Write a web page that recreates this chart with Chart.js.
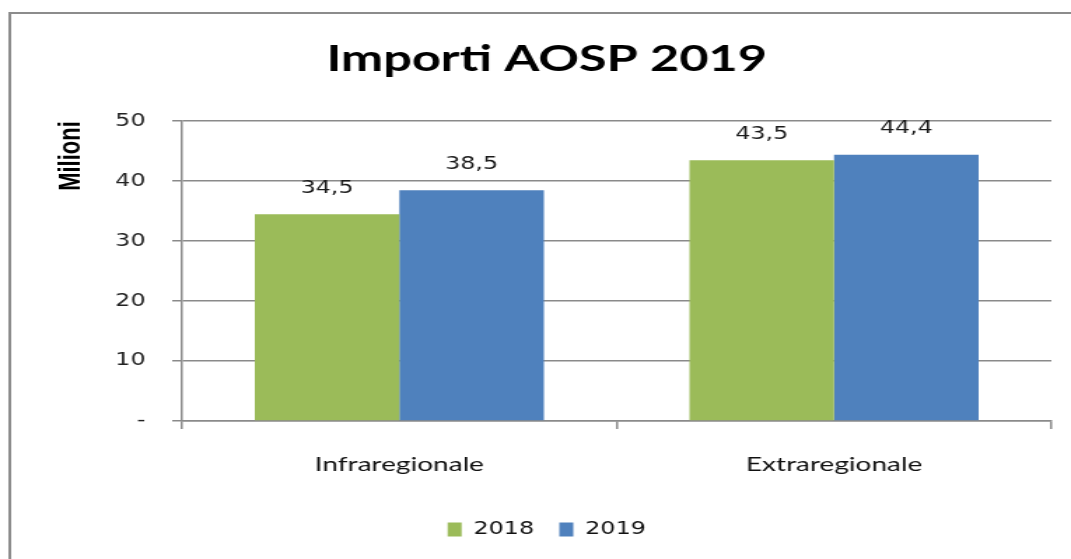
<!DOCTYPE html>
<html>
<head>
<meta charset="utf-8">
<title>Importi AOSP 2019</title>
<script src="https://cdn.jsdelivr.net/npm/chart.js@4/dist/chart.umd.min.js"></script>
<style>
  html, body { margin: 0; padding: 0; background: #fff; overflow: hidden; }
  /* the reference is stretched horizontally, so the chart is drawn narrow and widened */
  #wrap { width: 765px; height: 559px; transform: scaleX(1.4); transform-origin: 0 0; }
</style>
</head>
<body>
<div id="wrap"><canvas id="aospChart" width="765" height="559"></canvas></div>
<script>
// Chart data
const categories = ['Infraregionale', 'Extraregionale'];
const seriesLabels = ['2018', '2019'];
const values2018 = [34.5, 43.5];
const values2019 = [38.5, 44.4];
const yTicks = [0, 10, 20, 30, 40, 50];

const gridGray = '#8a8a8a';

// Outer frame of the chart
const framePlugin = {
  id: 'frame',
  beforeDraw(chart) {
    const ctx = chart.ctx;
    ctx.save();
    ctx.fillStyle = '#fff';
    ctx.fillRect(0, 0, chart.width, chart.height);
    ctx.strokeStyle = '#8c8c8c';
    ctx.lineWidth = 2;
    ctx.strokeRect(7, 13, 900, 700);
    ctx.restore();
  }
};

// Value labels above each bar, Italian decimal comma
const valueLabels = {
  id: 'valueLabels',
  afterDatasetsDraw(chart) {
    const ctx = chart.ctx;
    ctx.save();
    ctx.font = '17px "DejaVu Sans"';
    ctx.fillStyle = '#1a1a1a';
    ctx.textAlign = 'center';
    ctx.textBaseline = 'middle';
    chart.data.datasets.forEach((ds, i) => {
      chart.getDatasetMeta(i).data.forEach((bar, j) => {
        ctx.fillText(ds.data[j].toFixed(1).replace('.', ','), bar.x, bar.y - 26);
      });
    });
    ctx.restore();
  }
};

const ctx = document.getElementById('aospChart').getContext('2d');
new Chart(ctx, {
  type: 'bar',
  data: {
    labels: categories,
    datasets: [
      { label: seriesLabels[0], data: values2018, backgroundColor: '#9bbb59' },
      { label: seriesLabels[1], data: values2019, backgroundColor: '#4f81bd' }
    ]
  },
  options: {
    responsive: false,
    animation: false,
    devicePixelRatio: 1,
    categoryPercentage: 0.665,
    barPercentage: 1,
    layout: { padding: { left: 30, right: 14, top: 0, bottom: 11 } },
    plugins: {
      title: {
        display: true,
        text: 'Importi AOSP 2019',
        color: '#000',
        font: { family: 'Lato', size: 36, weight: 'bold' },
        padding: { top: 38, bottom: 40 }
      },
      legend: {
        position: 'bottom',
        labels: {
          color: '#111',
          font: { family: 'DejaVu Sans', size: 17 },
          boxWidth: 10,
          boxHeight: 14,
          padding: 18
        }
      },
      tooltip: { enabled: false }
    },
    scales: {
      x: {
        afterFit(scale) { scale.height = 82; },
        grid: { display: true, drawOnChartArea: false, drawTicks: true, tickLength: 8, color: gridGray, lineWidth: 1.5, offset: true },
        border: { display: true, color: gridGray, width: 1.5 },
        ticks: { color: '#111', font: { family: 'Lato', size: 20 }, padding: 24 }
      },
      y: {
        min: 0,
        max: 50,
        afterBuildTicks(scale) { scale.ticks = yTicks.map(v => ({ value: v })); },
        afterFit(scale) { scale.width = 100; },
        grid: { color: gridGray, lineWidth: 1.5, tickLength: 7 },
        border: { display: true, color: gridGray, width: 1.5 },
        ticks: {
          color: '#222',
          font: { family: 'DejaVu Sans', size: 17 },
          padding: 19,
          callback: v => (v === 0 ? '-' : v)
        },
        title: {
          display: true,
          text: 'Milioni',
          align: 'end',
          color: '#000',
          font: { family: 'Liberation Sans', size: 22, weight: 'bold' },
          padding: { top: 8, bottom: 0 }
        }
      }
    }
  },
  plugins: [framePlugin, valueLabels]
});
</script>
</body>
</html>
